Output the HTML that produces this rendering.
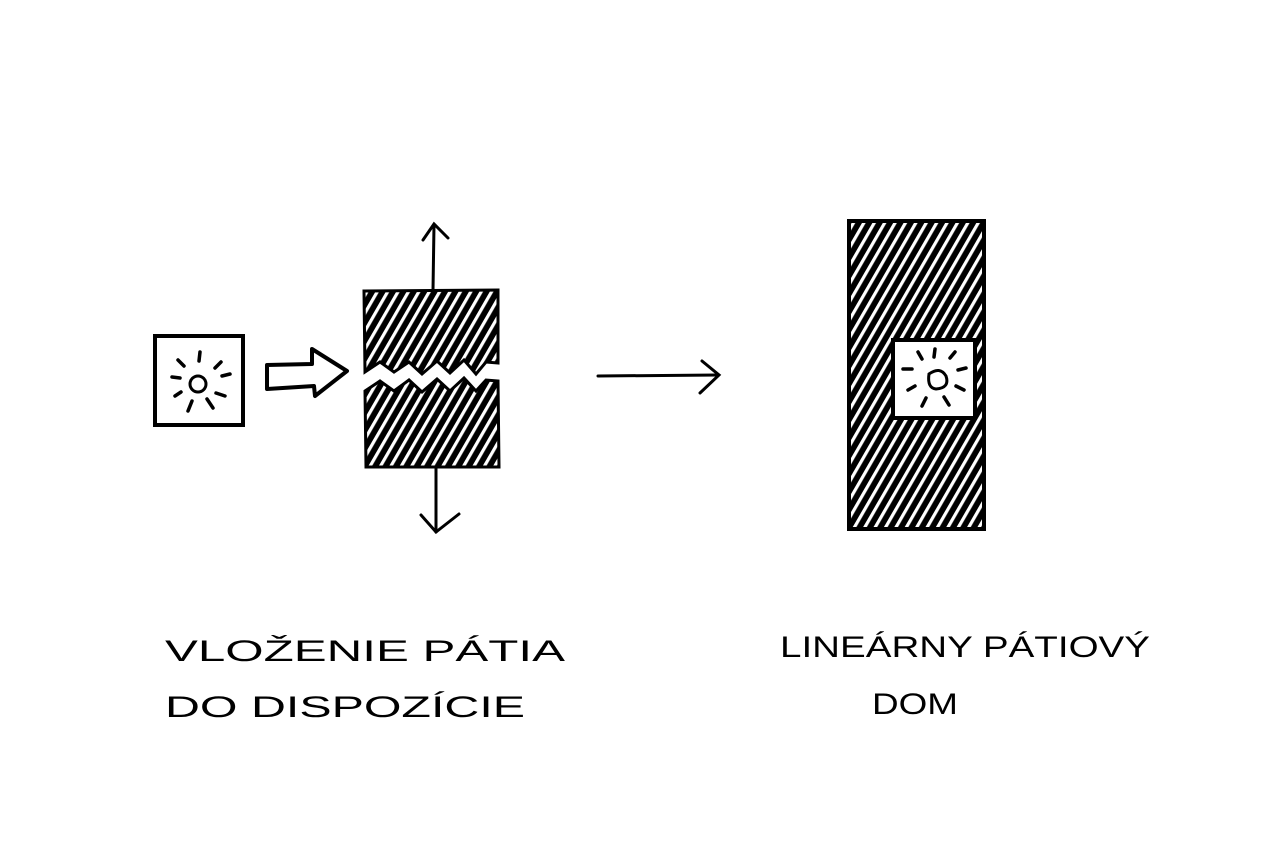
<!DOCTYPE html>
<html><head><meta charset="utf-8"><style>
html,body{margin:0;padding:0;background:#fff;width:1280px;height:866px;overflow:hidden}
svg{display:block}
text{font-family:"Liberation Sans",sans-serif;font-size:30px;fill:#000;font-weight:normal}
</style></head><body>
<svg width="1280" height="866" viewBox="0 0 1280 866">
<defs>
<pattern id="h" width="9" height="9" patternUnits="userSpaceOnUse" patternTransform="rotate(30)">
<rect width="9" height="9" fill="#000"/>
<rect x="3" y="0" width="3.2" height="9" fill="#fff"/>
</pattern>
</defs>
<rect x="155" y="336" width="88" height="89" fill="none" stroke="#000" stroke-width="4"/>
<circle cx="198" cy="384" r="8" fill="none" stroke="#000" stroke-width="3"/>
<g stroke="#000" stroke-width="3.5" stroke-linecap="round">
<line x1="200" y1="352" x2="199" y2="361"/>
<line x1="178" y1="360" x2="184" y2="366"/>
<line x1="215" y1="368" x2="221" y2="362"/>
<line x1="172" y1="377" x2="180" y2="378"/>
<line x1="222" y1="376" x2="230" y2="374"/>
<line x1="175" y1="396" x2="181" y2="392"/>
<line x1="216" y1="393" x2="225" y2="396"/>
<line x1="192" y1="401" x2="188" y2="411"/>
<line x1="207" y1="399" x2="213" y2="408"/>
</g>
<path d="M267 365 L312 364 L312 349 L347 371 L315 396 L314 386 L267 389 Z" fill="none" stroke="#000" stroke-width="4" stroke-linejoin="round"/>
<path d="M364 291 L498 290 L498 363 L486 362 L476 374 L464 360 L450 373 L437 361 L422 374 L409 362 L394 372 L380 362 L365 372 Z" fill="url(#h)" stroke="#000" stroke-width="3"/>
<path d="M365 391 L380 381 L394 391 L409 380 L422 392 L437 379 L450 391 L464 378 L476 391 L486 380 L498 381 L499 467 L366 467 Z" fill="url(#h)" stroke="#000" stroke-width="3"/>
<g stroke="#000" stroke-width="3" fill="none" stroke-linecap="round">
<line x1="433" y1="290" x2="434" y2="225"/>
<path d="M423 240 L434 224 L448 238"/>
<line x1="436" y1="467" x2="436" y2="532"/>
<path d="M421 515 L436 532 L459 514"/>
<line x1="598" y1="376" x2="718" y2="375"/>
<path d="M702 361 L719 375 L700 393"/>
</g>
<rect x="849" y="221" width="135" height="308" fill="url(#h)" stroke="#000" stroke-width="4"/>
<rect x="893" y="340" width="82" height="78" fill="#fff" stroke="#000" stroke-width="4"/>
<path d="M929 374 Q940 366 946 376 Q950 388 936 389 Q927 388 929 374 Z" fill="none" stroke="#000" stroke-width="3"/>
<g stroke="#000" stroke-width="3.5" stroke-linecap="round">
<line x1="935" y1="349" x2="934" y2="357"/>
<line x1="918" y1="352" x2="922" y2="359"/>
<line x1="950" y1="358" x2="955" y2="352"/>
<line x1="903" y1="369" x2="912" y2="369"/>
<line x1="958" y1="370" x2="966" y2="368"/>
<line x1="908" y1="390" x2="915" y2="386"/>
<line x1="956" y1="386" x2="964" y2="390"/>
<line x1="926" y1="398" x2="922" y2="406"/>
<line x1="944" y1="397" x2="949" y2="405"/>
</g>
<text x="165" y="661" textLength="400" lengthAdjust="spacingAndGlyphs">VLOŽENIE  PÁTIA</text>
<text x="165" y="717" textLength="360" lengthAdjust="spacingAndGlyphs">DO  DISPOZÍCIE</text>
<text x="780" y="657" textLength="370" lengthAdjust="spacingAndGlyphs">LINEÁRNY  PÁTIOVÝ</text>
<text x="872" y="714" textLength="86" lengthAdjust="spacingAndGlyphs">DOM</text>
</svg>
</body></html>
